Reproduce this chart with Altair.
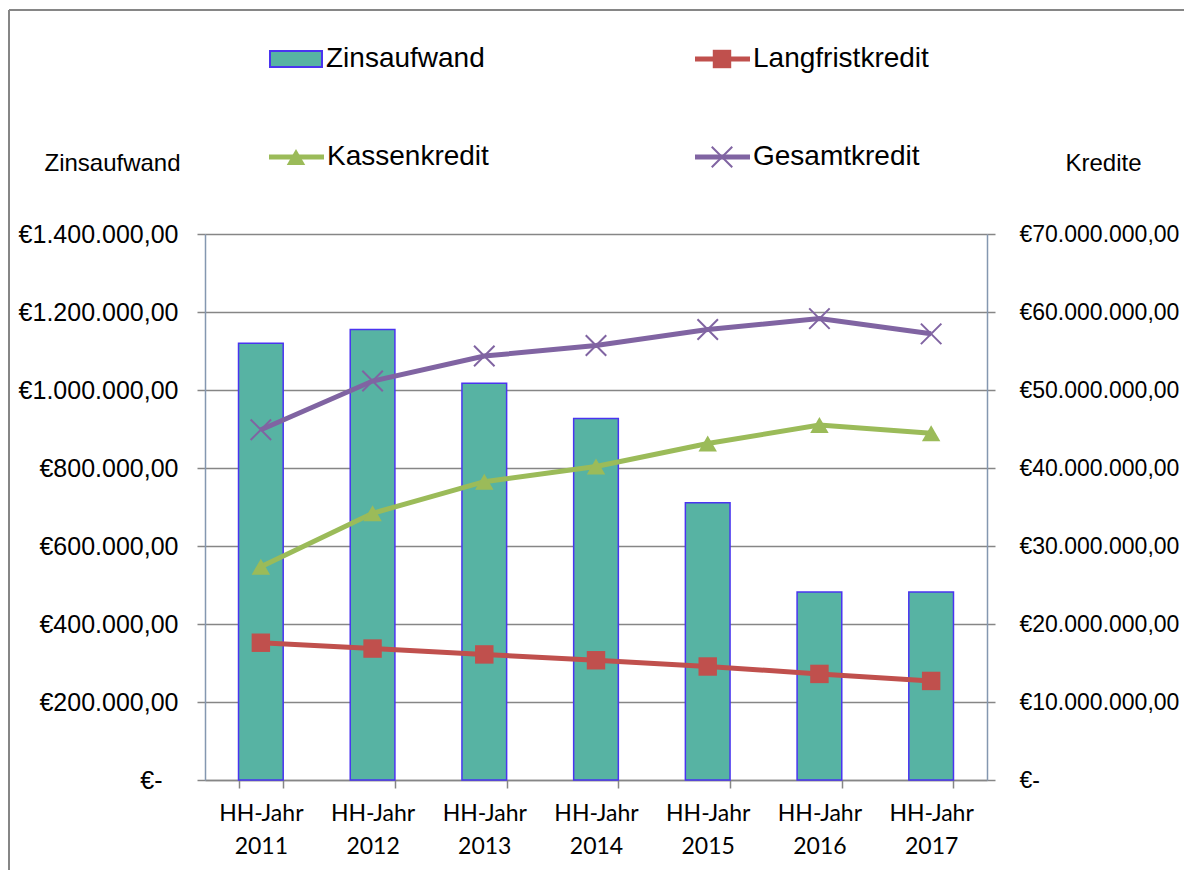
import altair as alt
import pandas as pd

# ---------------- data ----------------
years = ["HH-Jahr 2011", "HH-Jahr 2012", "HH-Jahr 2013", "HH-Jahr 2014",
         "HH-Jahr 2015", "HH-Jahr 2016", "HH-Jahr 2017"]
zinsaufwand = [1120000, 1155000, 1017000, 927000, 711000, 482000, 482000]
langfristkredit = [17600000, 16850000, 16100000, 15350000, 14550000, 13600000, 12700000]
kassenkredit = [27350000, 34200000, 38250000, 40200000, 43150000, 45500000, 44450000]
gesamtkredit = [44900000, 51150000, 54350000, 55700000, 57750000, 59150000, 57200000]
series_names = ["Langfristkredit", "Kassenkredit", "Gesamtkredit"]
series_colors = ["#C0504D", "#9BBB59", "#8064A2"]
left_ticks = [0, 200000, 400000, 600000, 800000, 1000000, 1200000, 1400000]
right_ticks = [0, 10000000, 20000000, 30000000, 40000000, 50000000, 60000000, 70000000]

BAR_FILL = "#57B3A3"
BAR_STROKE = "#4A34F0"
GRID = "#868686"
AXIS = "#8497B0"
FONT = "Liberation Sans"

W, H = 782, 546

bar_df = pd.DataFrame({"Jahr": years, "Zinsaufwand": zinsaufwand})
rows = []
for name, vals in zip(series_names, [langfristkredit, kassenkredit, gesamtkredit]):
    for y, v in zip(years, vals):
        rows.append({"Jahr": y, "Serie": name, "Wert": v})
line_df = pd.DataFrame(rows)

label_expr = "datum.value == 0 ? '€-' : format(datum.value, '$,.2f')"

x_enc = alt.X(
    "Jahr:N", sort=years,
    scale=alt.Scale(paddingInner=0.6, paddingOuter=0.3),
    axis=alt.Axis(title=None, labelExpr="split(datum.label, ' ')", labelAngle=0,
                  tickBand="extent", tickSize=8, tickColor=GRID, tickWidth=1.5,
                  domainColor=GRID, domainWidth=1.5, labelFont="Lato",
                  labelFontSize=23, labelPadding=14, labelLineHeight=33,
                  labelColor="black", grid=False),
)

bars = alt.Chart(bar_df).mark_bar(fill=BAR_FILL, stroke=BAR_STROKE, strokeWidth=1.5).encode(
    x=x_enc,
    y=alt.Y("Zinsaufwand:Q", scale=alt.Scale(domain=[0, 1400000], nice=False),
            axis=alt.Axis(orient="left", values=left_ticks, labelExpr=label_expr,
                          grid=True, gridColor=GRID, gridWidth=1.5,
                          domainColor=AXIS, domainWidth=1.5, tickColor=GRID,
                          tickWidth=1.5, tickSize=8, labelFont=FONT, labelFontSize=25,
                          labelColor="black",
                          labelPadding={"condition": {"test": "datum.value == 0", "value": 35},
                                        "value": 19},
                          title="Zinsaufwand", titleAngle=0, titleX=-93, titleY=-71,
                          titleAlign="center", titleBaseline="middle",
                          titleFont=FONT, titleFontSize=24, titleFontWeight="normal",
                          titleColor="black")),
)

y_right = alt.Y("Wert:Q", scale=alt.Scale(domain=[0, 70000000], nice=False),
                axis=alt.Axis(orient="right", values=right_ticks, labelExpr=label_expr,
                              grid=False, domainColor=AXIS, domainWidth=1.5,
                              tickColor=GRID, tickWidth=1.5, tickSize=8,
                              labelFont=FONT, labelFontSize=23, labelColor="black",
                              labelPadding=24,
                              title="Kredite", titleAngle=0, titleX=116, titleY=-71,
                              titleAlign="center", titleBaseline="middle",
                              titleFont=FONT, titleFontSize=24, titleFontWeight="normal",
                              titleColor="black"))

color_enc = alt.Color("Serie:N", scale=alt.Scale(domain=series_names, range=series_colors),
                      legend=None)

lines = alt.Chart(line_df).mark_line(strokeWidth=5).encode(
    x=x_enc, y=y_right, color=color_enc, detail="Serie:N")

pts_filled = alt.Chart(line_df).transform_filter(
    "datum.Serie != 'Gesamtkredit'"
).mark_point(filled=True, size=340, opacity=1).encode(
    x=x_enc, y=y_right, color=color_enc,
    shape=alt.Shape("Serie:N", scale=alt.Scale(domain=["Langfristkredit", "Kassenkredit"],
                                               range=["square", "triangle-up"]),
                    legend=None),
)

X_PATH = "M-1,-1L1,1M-1,1L1,-1"
pts_x = alt.Chart(line_df).transform_filter(
    "datum.Serie == 'Gesamtkredit'"
).mark_point(shape=X_PATH, filled=False, size=420, strokeWidth=2, opacity=1).encode(
    x=x_enc, y=y_right, color=color_enc)

series_layer = alt.layer(lines, pts_filled, pts_x)

# ---------------- decorations: frame + legend ----------------
one = pd.DataFrame({"k": [0]})
frame_v = alt.Chart(one).mark_rule(color=GRID, strokeWidth=2).encode(
    x=alt.value(-196), y=alt.value(-224), y2=alt.value(H + 90))
frame_h = alt.Chart(one).mark_rule(color=GRID, strokeWidth=2).encode(
    x=alt.value(-196), x2=alt.value(W + 197), y=alt.value(-224))

leg_layers = []
leg_layers.append(alt.Chart(one).mark_rect(fill=BAR_FILL, stroke=BAR_STROKE, strokeWidth=2).encode(
    x=alt.value(65), x2=alt.value(117), y=alt.value(-183), y2=alt.value(-167)))
legend_items = [
    ("Zinsaufwand", 121, -175, None, None),
    ("Langfristkredit", 548, -175, series_colors[0], "square"),
    ("Kassenkredit", 122, -77, series_colors[1], "triangle-up"),
    ("Gesamtkredit", 548, -77, series_colors[2], X_PATH),
]
for name, tx, ty, col, shp in legend_items:
    leg_layers.append(alt.Chart(pd.DataFrame({"label": [name]})).mark_text(
        align="left", baseline="middle", font=FONT, fontSize=28, color="black").encode(
        x=alt.value(tx), y=alt.value(ty), text="label:N"))
    if col is not None:
        leg_layers.append(alt.Chart(one).mark_rule(color=col, strokeWidth=5).encode(
            x=alt.value(tx - 58), x2=alt.value(tx - 3), y=alt.value(ty)))
        if shp == X_PATH:
            leg_layers.append(alt.Chart(one).mark_point(
                shape=shp, filled=False, size=420, strokeWidth=2, color=col, opacity=1).encode(
                x=alt.value(tx - 31), y=alt.value(ty)))
        else:
            leg_layers.append(alt.Chart(one).mark_point(
                shape=shp, filled=True, size=340, color=col, opacity=1).encode(
                x=alt.value(tx - 31), y=alt.value(ty)))

chart = alt.layer(
    bars, series_layer, frame_v, frame_h, *leg_layers
).resolve_scale(y="independent").properties(
    width=W, height=H,
    autosize=alt.AutoSizeParams(type="none"),
    padding={"left": 197, "top": 226, "right": 197, "bottom": 90},
).configure_view(stroke=None).configure(
    locale={"number": {"decimal": ",", "thousands": ".", "grouping": [3],
                       "currency": ["€", ""]}}
)

chart.save("out.html", embed_options={"renderer": "svg", "actions": False})
